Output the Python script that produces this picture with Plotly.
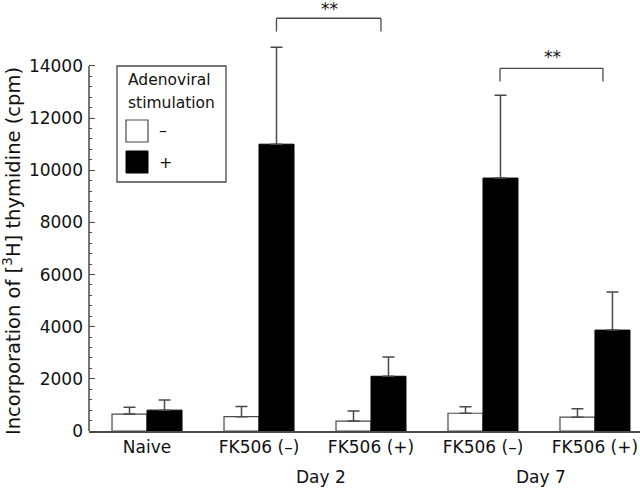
import plotly.graph_objects as go

# ---- data ----
groups = ["Naive", "FK506 (–)", "FK506 (+)", "FK506 (–)", "FK506 (+)"]
day_labels = ["Day 2", "Day 7"]
minus_mean = [650, 550, 380, 680, 530]
minus_err_top = [910, 940, 770, 930, 850]
plus_mean = [800, 11000, 2100, 9700, 3870]
plus_err_top = [1190, 14720, 2840, 12880, 5330]
y_ticks = [0, 2000, 4000, 6000, 8000, 10000, 12000, 14000]

xpos = list(range(len(groups)))
minus_err = [t - m for t, m in zip(minus_err_top, minus_mean)]
plus_err = [t - m for t, m in zip(plus_err_top, plus_mean)]

W, H = 640, 488
ML, MR, MT, MB = 89, 0, 6, 57
YMAX = 16300
XMIN, XMAX = -0.518, 4.402
LINE = "#4a4a4a"
TXT = "#111"
FONT = "DejaVu Sans"

def px(xp):
    return (xp - ML) / (W - ML - MR)

def py(yp):
    return (H - MB - yp) / (H - MB - MT)

fig = go.Figure()
fig.add_trace(go.Bar(
    x=xpos, y=minus_mean, name="–",
    marker=dict(color="white", line=dict(color=LINE, width=1.2)),
    error_y=dict(type="data", array=minus_err, arrayminus=[0]*5, symmetric=False,
                 color=LINE, thickness=1.5, width=6),
    showlegend=False,
))
fig.add_trace(go.Bar(
    x=xpos, y=plus_mean, name="+",
    marker=dict(color="black", line=dict(color="black", width=1)),
    error_y=dict(type="data", array=plus_err, arrayminus=[0]*5, symmetric=False,
                 color=LINE, thickness=1.5, width=6),
    showlegend=False,
))

shapes = []
shapes.append(dict(type="line", xref="paper", yref="y", x0=0, x1=0, y0=0, y1=14000,
                   line=dict(color=LINE, width=1.5)))

def bracket(x0, x1, ytop, yleg):
    st = dict(color=LINE, width=1.3)
    return [
        dict(type="line", xref="x", yref="y", x0=x0, x1=x0, y0=yleg, y1=ytop, line=st),
        dict(type="line", xref="x", yref="y", x0=x0, x1=x1, y0=ytop, y1=ytop, line=st),
        dict(type="line", xref="x", yref="y", x0=x1, x1=x1, y0=yleg, y1=ytop, line=st),
    ]
shapes += bracket(1.156, 2.089, 15830, 15320)
shapes += bracket(3.152, 4.071, 13910, 13400)

shapes.append(dict(type="rect", xref="paper", yref="paper", x0=px(117), x1=px(226), y0=py(182), y1=py(66),
                   line=dict(color=LINE, width=1.3), fillcolor="white"))
shapes.append(dict(type="rect", xref="paper", yref="paper", x0=px(126), x1=px(148), y0=py(142), y1=py(120),
                   line=dict(color=LINE, width=1.2), fillcolor="white"))
shapes.append(dict(type="rect", xref="paper", yref="paper", x0=px(126), x1=px(148), y0=py(173), y1=py(151),
                   line=dict(color="black", width=1), fillcolor="black"))

def ann(text, x, y, size=17, xanchor="center", xref="paper", angle=0):
    return dict(text=text, xref=xref, yref="paper", x=x, y=y, xanchor=xanchor, yanchor="middle",
                showarrow=False, textangle=angle, font=dict(size=size, color=TXT, family=FONT))

annotations = [
    ann("Incorporation of [<sup>3</sup>H] thymidine (cpm)", px(12), py(251), size=19.5, angle=-90),
    ann("**", 1.63, py(9), xref="x"),
    ann("**", 3.62, py(57), xref="x"),
    ann(day_labels[0], 1.55, py(477), xref="x"),
    ann(day_labels[1], 3.52, py(477), xref="x"),
    ann("Adenoviral", px(126), py(80), size=15.5, xanchor="left"),
    ann("stimulation", px(126), py(103), size=15.5, xanchor="left"),
    ann("–", px(157), py(130), size=16, xanchor="left"),
    ann("+", px(157), py(162), size=16, xanchor="left"),
]

fig.update_layout(
    width=W, height=H,
    margin=dict(l=ML, r=MR, t=MT, b=MB),
    paper_bgcolor="white", plot_bgcolor="white",
    barmode="group", bargap=0.375, bargroupgap=0,
    font=dict(family=FONT, size=17, color=TXT),
    shapes=shapes, annotations=annotations,
    xaxis=dict(range=[XMIN, XMAX], tickvals=xpos, ticktext=groups, showline=True,
               linecolor=LINE, linewidth=1.5, ticks="", showgrid=False, zeroline=False,
               tickfont=dict(size=17, color=TXT, family=FONT)),
    yaxis=dict(range=[0, YMAX], tickvals=y_ticks, ticktext=[str(v) for v in y_ticks],
               showline=False, ticks="inside", ticklen=6, tickwidth=1.3, tickcolor=LINE,
               ticklabelstandoff=5,
               showgrid=False, zeroline=False,
               minor=dict(tickvals=[v for v in range(0, 14001, 400) if v % 2000],
                          ticks="inside", ticklen=3, tickwidth=1.2, tickcolor=LINE),
               tickfont=dict(size=17, color=TXT, family=FONT)),
)

fig.write_html("out.html", config={"displayModeBar": False},
               post_script="document.body.style.margin='0px';document.body.style.overflow='hidden';")
